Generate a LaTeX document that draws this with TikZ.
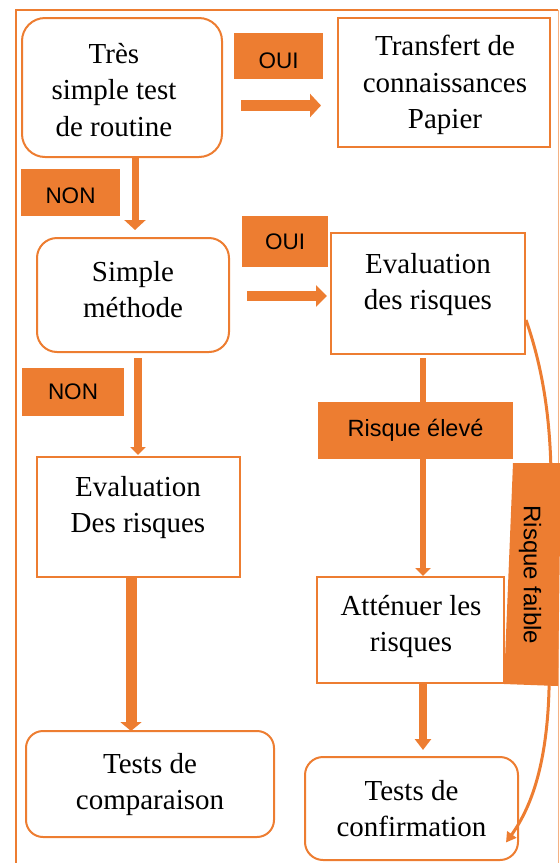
\documentclass[tikz,border=0pt]{standalone}
\usepackage{fontspec}
\setmainfont{Liberation Serif}
\newfontfamily\lsans{Liberation Sans}
\usetikzlibrary{arrows.meta,calc}
\definecolor{orf}{HTML}{ED7D31}
\begin{document}
\begin{tikzpicture}[x=1pt,y=-1pt,
  sqbox/.style={draw=orf,line width=2pt,fill=white,rectangle,inner sep=0pt},
  rdbox/.style={sqbox,rounded corners=#1},
  txt/.style={font=\fontsize{29}{36.5}\selectfont,align=center,inner sep=0pt,anchor=north},
  lbl/.style={fill=orf,inner sep=0pt,font=\lsans\fontsize{22.5}{26}\selectfont,text=black},
  fat/.style={draw=orf,line width=#1},
]
\useasboundingbox (0,0) rectangle (560,863);
% frame
\draw[orf, line width=2pt] (16,863) -- (16,10) -- (558,10);
\draw[orf!60, line width=1pt] (558,10) -- (558,863);

% boxes
\node[rdbox=23pt, minimum width=200pt, minimum height=139pt] (b1) at (122,87.5) {};
\node[sqbox, minimum width=212pt, minimum height=129pt] (b2) at (444,82.5) {};
\node[rdbox=20pt, minimum width=192pt, minimum height=114pt] (b3) at (133,295) {};
\node[sqbox, minimum width=194pt, minimum height=121pt] (b4) at (428,293.5) {};
\node[sqbox, minimum width=203pt, minimum height=120pt] (b5) at (138.5,517) {};
\node[rdbox=17pt, minimum width=248pt, minimum height=106pt] (b6) at (150,784) {};
\node[sqbox, minimum width=187pt, minimum height=106pt] (b7) at (410.5,630) {};
\node[rdbox=18pt, minimum width=213pt, minimum height=103pt] (b8) at (411.5,808.5) {};

% box texts
\node[txt] (t1) at (114,43) {Très\\simple test\\de routine};
\node[txt] (t2) at (445,35) {Transfert de\\connaissances\\Papier};
\node[txt] (t3) at (133,261) {Simple\\méthode};
\node[txt] (t4) at (428,253) {Evaluation\\des risques};
\node[txt] (t5) at (138,476) {Evaluation\\Des risques};
\node[txt] (t6) at (150,753) {Tests de\\comparaison};
\node[txt] (t7) at (411,595) {Atténuer les\\risques};
\node[txt] (t8) at (411.5,780) {Tests de\\confirmation};

% arrows
\draw[fat=11pt, -{Triangle[width=23pt,length=11pt]}] ([shift={(18,18)}]b1.east) -- ([shift={(-16,23)}]b2.west);
\draw[fat=7pt, -{Triangle[width=21pt,length=10pt]}] ([shift={(13,0)}]b1.south) -- ([shift={(2,-7)}]b3.north);
\draw[fat=10pt, -{Triangle[width=21pt,length=11pt]}] ([shift={(17,1)}]b3.east) -- ([shift={(-3,2.5)}]b4.west);
\draw[fat=8pt, -{Triangle[width=15pt,length=8pt]}] ([shift={(5,5)}]b3.south) -- ([shift={(-0.5,-1)}]b5.north);
\draw[fat=11pt, -{Triangle[width=21pt,length=9pt]}] ([shift={(-7.5,0)}]b5.south) -- ([shift={(-19,1)}]b6.north);
\draw[fat=6pt, -{Triangle[width=15pt,length=8pt]}] ([shift={(-5,3)}]b4.south) -- ([shift={(12.5,0)}]b7.north);
\draw[fat=8pt, -{Triangle[width=16pt,length=11pt]}] ([shift={(12.5,0)}]b7.south) -- ([shift={(11.5,-6)}]b8.north);

% curved connector (Risque faible)
\draw[orf, line width=3pt, -{Triangle[width=11pt,length=10pt]}]
  ([shift={(0,26.5)}]b4.east) .. controls (547,380) and (552,440) .. (551,500)
  -- (549,690) .. controls (547,760) and (533,805) .. ([shift={(-13,34)}]b8.east);

% labels
\node[lbl, minimum width=89pt, minimum height=46pt, text height=24pt, text depth=0pt] (l1) at (278.5,56) {OUI};
\node[lbl, minimum width=99pt, minimum height=47pt, text height=21pt, text depth=0pt] (l2) at (70.5,192.5) {NON};
\node[lbl, minimum width=86pt, minimum height=51pt] (l3) at (285,241.5) {OUI};
\node[lbl, minimum width=102pt, minimum height=48pt] (l4) at (73,392) {NON};
\node[lbl, minimum width=195pt, minimum height=57pt, font=\lsans\fontsize{23.5}{27}\selectfont] (l5) at (415.5,430.5) {Risque élevé};
\fill[orf] (513,463) -- (561,463) -- (558,686) -- (504,684) -- cycle;
\node[font=\lsans\fontsize{24}{27}\selectfont, rotate=-90, inner sep=0pt] (l6) at (530,575) {Risque faible};
\end{tikzpicture}
\end{document}
